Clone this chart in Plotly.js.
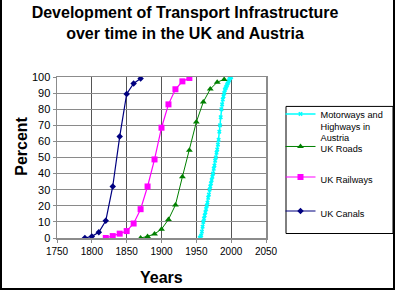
<!DOCTYPE html>
<html>
<head>
<meta charset="utf-8">
<script src="https://cdn.plot.ly/plotly-3.0.1.min.js"></script>
<style>
  html, body { margin:0; padding:0; background:#fff; }
  #wrap { position:relative; width:395px; height:290px; }
  #chart { width:395px; height:290px; }
  #frame { position:absolute; left:0; top:0; width:391px; height:288px;
           border-left:2px solid #000; border-right:2px solid #000; border-bottom:2px solid #000;
           pointer-events:none; }
</style>
</head>
<body>
<div id="wrap"><div id="chart"></div><div id="frame"></div></div>
<script>
// ---- data ----
const canalYears = [1790, 1800, 1810, 1820, 1830, 1840, 1850, 1860, 1870];
const canalPct   = [0, 1, 3.5, 10.7, 32, 63, 89.5, 96, 99];

const railYears = [1820, 1830, 1840, 1850, 1860, 1870, 1880, 1890, 1900, 1910, 1920, 1930, 1940];
const railPct   = [0, 1.2, 2.7, 4.3, 9, 17.9, 32, 48.8, 68.5, 83, 92.4, 97.3, 99.4];

const roadYears = [1870, 1880, 1890, 1900, 1910, 1920, 1930, 1940, 1950, 1960, 1970, 1980, 1990];
const roadPct   = [0, 1, 2.5, 5.5, 11.5, 20.5, 38, 54.5, 72, 84.5, 92.5, 96.8, 98.5];

const mwYears = [1955,1956,1957,1958,1959,1960,1961,1962,1963,1964,1965,1966,1967,1968,1969,1970,
                 1971,1972,1973,1974,1975,1976,1977,1978,1979,1980,1981,1982,1983,1984,1985,1986,
                 1987,1988,1989,1990,1991,1992,1993,1994,1995,1996,1997,1998,1999,2000];
const mwPct   = [0,0.5,1.5,4,7,10,12,14,16,18,20,22,25,27,30,32,
                 34,36,38,40,43,45,48,50,53,55,58,61,66,70,75,80,
                 83,86,88,90,92,93,94,95,96,97,98,99,99.5,100];

const names = ['Motorways and<br>Highways in<br>Austria', 'UK Roads', 'UK Railways', 'UK Canals'];
const xTicks = [1750, 1800, 1850, 1900, 1950, 2000, 2050];
const yTicks = [0, 10, 20, 30, 40, 50, 60, 70, 80, 90, 100];

// ---- layout geometry (pixels) ----
const W = 395, H = 290;
const L = 57, R = 129, T = 77, B = 51.5;
const PW = W - L - R, PH = H - T - B;
const px = p => (p - L) / PW;
const py = p => (T + PH - p) / PH;
const cx = p => p / W;
const cy = p => 1 - p / H;
const FONT = 'Arial, "Liberation Sans", sans-serif';

const traces = [
  {x: mwYears, y: mwPct, name: names[0], mode: 'lines+markers', legend: 'legend',
   line: {color: '#00FFFF', width: 1.5}, marker: {symbol: 'x', size: 4, color: '#00FFFF'}},
  {x: roadYears, y: roadPct, name: names[1], mode: 'lines+markers', legend: 'legend2',
   line: {color: '#008000', width: 1}, marker: {symbol: 'triangle-up', size: 6, color: '#008000'}},
  {x: railYears, y: railPct, name: names[2], mode: 'lines+markers', legend: 'legend3',
   line: {color: '#FF00FF', width: 1.2}, marker: {symbol: 'square', size: 6, color: '#FF00FF'}},
  {x: canalYears, y: canalPct, name: names[3], mode: 'lines+markers', legend: 'legend4',
   line: {color: '#000080', width: 1.2}, marker: {symbol: 'diamond', size: 5, color: '#000080'}}
];

function leg(topPx) {
  return {x: cx(280.5), y: cy(topPx), xref: 'container', yref: 'container',
          xanchor: 'left', yanchor: 'top',
          bgcolor: 'rgba(0,0,0,0)', borderwidth: 0, valign: 'top',
          font: {family: FONT, size: 9.2, color: '#000'}};
}

const layout = {
  width: W, height: H,
  margin: {l: L, r: R, t: T, b: B, pad: 0, autoexpand: false},
  paper_bgcolor: '#fff', plot_bgcolor: '#fff',
  font: {family: FONT, color: '#000'},
  title: {text: 'Development of Transport Infrastructure<br>over time in the UK and Austria',
          font: {family: FONT, size: 16, weight: 'bold', color: '#000'},
          x: 185 / W, xref: 'container', xanchor: 'center',
          y: 1 - 18 / H, yref: 'container', yanchor: 'top'},
  xaxis: {range: [1750, 2050], tickvals: xTicks, ticktext: xTicks.map(String),
          showgrid: true, gridcolor: '#555', gridwidth: 1,
          showline: true, linecolor: '#8c8c8c', linewidth: 1.5, mirror: true,
          ticks: 'outside', ticklen: 3, tickcolor: '#8c8c8c', automargin: false,
          tickfont: {family: FONT, size: 10, color: '#000'}, zeroline: false, fixedrange: true},
  yaxis: {range: [0, 100], tickvals: yTicks, ticktext: yTicks.map(String),
          showgrid: true, gridcolor: '#8a8a8a', gridwidth: 1,
          showline: true, linecolor: '#8c8c8c', linewidth: 1.5, mirror: true,
          ticks: 'outside', ticklen: 3, tickcolor: '#8c8c8c', automargin: false,
          tickfont: {family: FONT, size: 11, color: '#000'}, zeroline: false, fixedrange: true},
  showlegend: true,
  legend: leg(101.5),
  legend2: leg(134),
  legend3: leg(164.5),
  legend4: leg(198.5),
  annotations: [
    {text: 'Percent', xref: 'paper', yref: 'paper', x: px(22), y: py(147), textangle: -90,
     xanchor: 'center', yanchor: 'middle',
     showarrow: false, font: {family: FONT, size: 16, weight: 'bold', color: '#000'}},
    {text: 'Years', xref: 'paper', yref: 'paper', x: px(161.5), y: py(278.5),
     xanchor: 'center', yanchor: 'middle',
     showarrow: false, font: {family: FONT, size: 16, weight: 'bold', color: '#000'}}
  ],
  shapes: [
    {type: 'rect', xref: 'paper', yref: 'paper', x0: px(286), x1: px(393), y0: py(234), y1: py(106.5),
     line: {color: '#000', width: 1}, fillcolor: 'rgba(0,0,0,0)'}
  ]
};

Plotly.newPlot('chart', traces, layout, {displayModeBar: false, staticPlot: true});
</script>
</body>
</html>
